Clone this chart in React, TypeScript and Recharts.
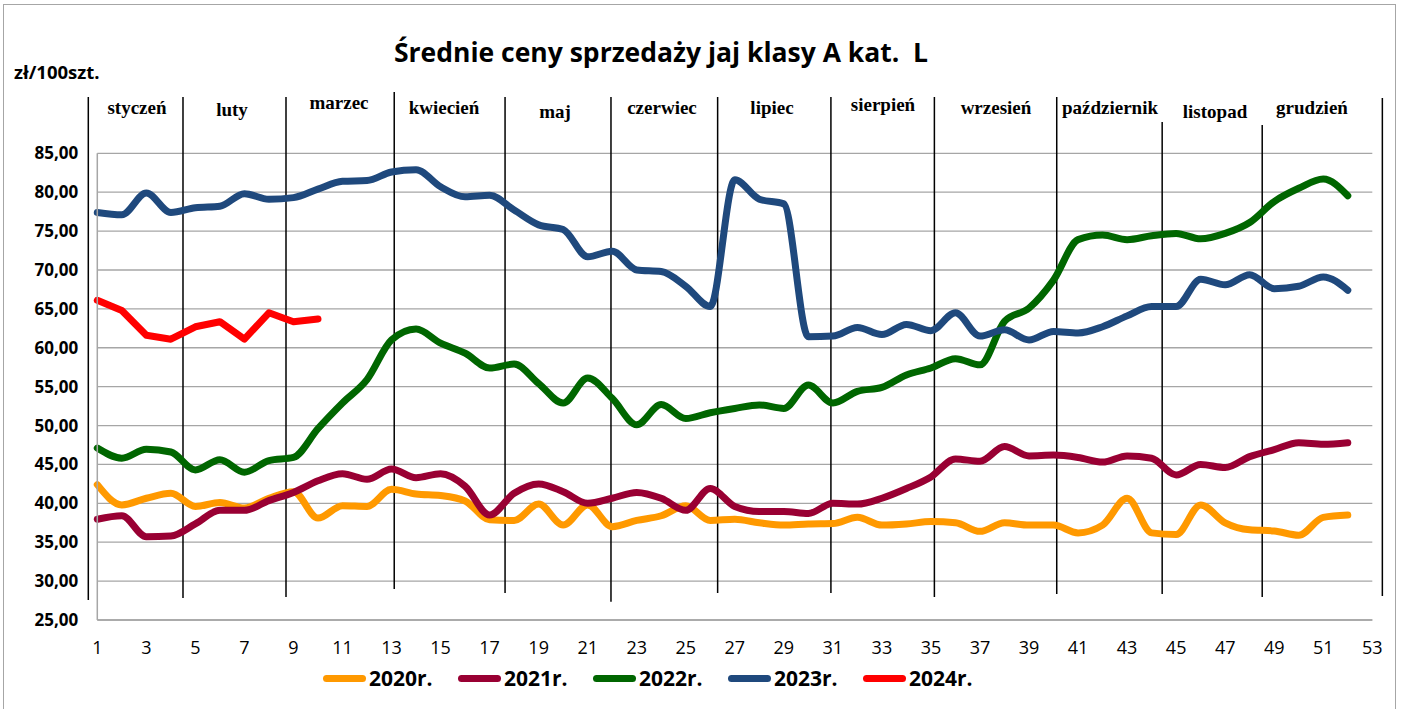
import React from "react";
import { LineChart, Line, XAxis, YAxis, CartesianGrid, ReferenceLine } from "recharts";

const weeks = [1, 2, 3, 4, 5, 6, 7, 8, 9, 10, 11, 12, 13, 14, 15, 16, 17, 18, 19, 20, 21, 22, 23, 24, 25, 26, 27, 28, 29, 30, 31, 32, 33, 34, 35, 36, 37, 38, 39, 40, 41, 42, 43, 44, 45, 46, 47, 48, 49, 50, 51, 52];

const y2020 = [42.4, 39.8, 40.65, 41.3, 39.6, 40.1, 39.4, 40.65, 41.5, 38.1, 39.7, 39.6, 41.8, 41.2, 41.0, 40.3, 37.9, 37.8, 39.9, 37.2, 39.8, 37.0, 37.8, 38.4, 39.7, 37.8, 37.95, 37.5, 37.2, 37.35, 37.4, 38.2, 37.2, 37.35, 37.65, 37.5, 36.4, 37.5, 37.2, 37.2, 36.2, 37.2, 40.65, 36.2, 36.0, 39.8, 37.5, 36.6, 36.45, 35.9, 38.2, 38.5];
const y2021 = [37.95, 38.4, 35.7, 35.8, 37.35, 39.1, 39.1, 40.35, 41.4, 42.9, 43.8, 43.1, 44.4, 43.3, 43.8, 42.2, 38.5, 41.3, 42.5, 41.5, 40.0, 40.65, 41.4, 40.65, 39.1, 41.9, 39.6, 38.95, 38.95, 38.7, 40.0, 39.9, 40.65, 41.9, 43.4, 45.7, 45.4, 47.3, 46.1, 46.2, 45.9, 45.3, 46.1, 45.8, 43.65, 45.0, 44.6, 46.0, 46.9, 47.8, 47.6, 47.8];
const y2022 = [47.1, 45.8, 46.95, 46.6, 44.3, 45.6, 44.0, 45.5, 45.9, 49.6, 52.9, 55.9, 61.0, 62.4, 60.6, 59.3, 57.4, 57.9, 55.4, 52.9, 56.1, 53.5, 50.1, 52.7, 50.9, 51.65, 52.2, 52.65, 52.2, 55.2, 52.9, 54.4, 54.9, 56.5, 57.4, 58.6, 57.8, 63.4, 65.1, 68.7, 73.9, 74.5, 73.9, 74.4, 74.7, 74.0, 74.7, 76.1, 78.8, 80.5, 81.7, 79.55];
const y2023 = [77.4, 77.1, 79.9, 77.4, 78.0, 78.2, 79.8, 79.1, 79.3, 80.4, 81.4, 81.5, 82.6, 82.9, 80.7, 79.4, 79.6, 77.7, 75.8, 75.2, 71.7, 72.4, 70.0, 69.8, 67.9, 65.3, 81.6, 79.1, 78.5, 61.4, 61.5, 62.6, 61.7, 63.0, 62.2, 64.5, 61.5, 62.3, 61.0, 62.1, 61.9, 62.7, 64.1, 65.3, 65.3, 68.8, 68.1, 69.4, 67.6, 67.9, 69.1, 67.4];
const y2024 = [66.1, 64.8, 61.6, 61.1, 62.7, 63.35, 61.1, 64.5, 63.35, 63.7];

const seriesKeys = ["y2020", "y2021", "y2022", "y2023", "y2024"];
const seriesNames = ["2020r.", "2021r.", "2022r.", "2023r.", "2024r."];
const seriesColors = ["#FF9900", "#990033", "#006600", "#1F497D", "#FF0000"];
const seriesCurve = ["monotone", "monotone", "monotone", "monotone", "linear"];

const xTicks = [1, 3, 5, 7, 9, 11, 13, 15, 17, 19, 21, 23, 25, 27, 29, 31, 33, 35, 37, 39, 41, 43, 45, 47, 49, 51, 53];
const yTicks = [25, 30, 35, 40, 45, 50, 55, 60, 65, 70, 75, 80, 85];

const months = ["styczeń", "luty", "marzec", "kwiecień", "maj", "czerwiec", "lipiec", "sierpień", "wrzesień", "październik", "listopad", "grudzień"];

const title = "Średnie ceny sprzedaży jaj klasy A kat.  L";
const unitLabel = "zł/100szt.";

// layout of annotations (week / value units for dividers, px for labels)
const dividerWeek = [0.633, 4.495, 8.696, 13.11, 17.63, 21.95, 26.3, 30.92, 35.14, 40.13, 44.43, 48.51, 53.41];
const dividerTop = [92.24, 92.24, 92.24, 92.88, 92.24, 92.24, 92.24, 92.24, 92.24, 92.24, 89.02, 88.64, 92.11];
const dividerBottom = [27.57, 27.83, 27.95, 28.98, 28.47, 27.35, 28.47, 28.47, 27.95, 28.34, 28.34, 27.95, 28.08];
const monthLabelX = [137, 232, 339, 444, 555, 662, 772, 883, 996, 1110, 1215, 1312];
const monthLabelY = [108, 110, 103, 108, 112, 108, 108, 105, 108, 108, 112, 108];

const data = weeks.map((w, i) => ({
  week: w,
  y2020: y2020[i],
  y2021: y2021[i],
  y2022: y2022[i],
  y2023: y2023[i],
  y2024: i < y2024.length ? y2024[i] : undefined,
}));

const fmt = (v: number) => v.toFixed(2).replace(".", ",");

export default function App() {
  return (
    <div style={{ position: "absolute", left: 0, top: 0, width: 1404, height: 709, background: "#fff", overflow: "hidden" }}>
      <div style={{ position: "absolute", left: 3, top: 4, width: 1393, height: 720, border: "1.5px solid #a6a6a6", boxSizing: "border-box" }} />
      <LineChart
        width={1404}
        height={709}
        data={data}
        margin={{ top: 153.3, right: 31.7, bottom: 59, left: 0 }}
        style={{ position: "absolute", left: 0, top: 0 }}
      >
        <CartesianGrid vertical={false} stroke="#a6a6a6" strokeWidth={1.3} />
        <XAxis
          dataKey="week"
          type="number"
          domain={[1, 53]}
          ticks={xTicks}
          interval={0}
          height={30}
          tickLine={false}
          tickSize={0}
          tickMargin={21.5}
          axisLine={{ stroke: "#a6a6a6", strokeWidth: 1.5 }}
          tick={{ fill: "#000", fontSize: 18, fontFamily: "Open Sans" }}
        />
        <YAxis
          type="number"
          domain={[25, 85]}
          ticks={yTicks}
          interval={0}
          width={97.3}
          tickLine={false}
          tickSize={0}
          tickMargin={19}
          tickFormatter={fmt}
          axisLine={{ stroke: "#a6a6a6", strokeWidth: 1.5 }}
          tick={{ fill: "#000", fontSize: 17, fontWeight: 700, fontFamily: "Open Sans" }}
        />
        {dividerWeek.map((w, i) => (
          <ReferenceLine
            key={"d" + i}
            segment={[{ x: w, y: dividerTop[i] }, { x: w, y: dividerBottom[i] }]}
            stroke="#000"
            strokeWidth={1.5}
            ifOverflow="visible"
          />
        ))}
        {seriesKeys.map((k, i) => (
          <Line
            key={k}
            dataKey={k}
            name={seriesNames[i]}
            type={seriesCurve[i] as any}
            stroke={seriesColors[i]}
            strokeWidth={7}
            strokeLinecap="round"
            strokeLinejoin="round"
            dot={false}
            activeDot={false}
            isAnimationActive={false}
          />
        ))}
      </LineChart>
      <div style={{ position: "absolute", left: 0, width: 1322, top: 34, textAlign: "center", fontFamily: "Open Sans", fontWeight: 700, fontSize: 26.5, lineHeight: "36px", whiteSpace: "pre", color: "#000" }}>
        {title}
      </div>
      <div style={{ position: "absolute", left: 14, top: 59, fontFamily: "Open Sans", fontWeight: 700, fontSize: 18.5, lineHeight: "26px", color: "#000" }}>
        {unitLabel}
      </div>
      {months.map((m, i) => (
        <div
          key={m}
          style={{ position: "absolute", left: monthLabelX[i] - 80, width: 160, top: monthLabelY[i] - 13, textAlign: "center", fontFamily: "Liberation Serif", fontWeight: 700, fontSize: 19, lineHeight: "26px", color: "#000" }}
        >
          {m}
        </div>
      ))}
      <div style={{ position: "absolute", left: 323, top: 664, display: "flex" }}>
        {seriesNames.map((n, i) => (
          <div key={n} style={{ width: 135, display: "flex", alignItems: "center", height: 28 }}>
            <div style={{ width: 43, height: 7, borderRadius: 4, background: seriesColors[i], marginRight: 3 }} />
            <span style={{ fontFamily: "Open Sans", fontWeight: 700, fontSize: 21, color: "#000" }}>{n}</span>
          </div>
        ))}
      </div>
    </div>
  );
}
